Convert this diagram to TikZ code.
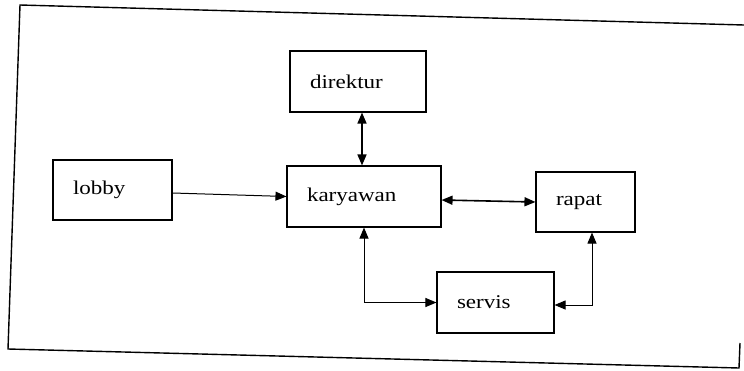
\documentclass[tikz,border=0pt]{standalone}
\usepackage{fontspec}
\setmainfont{Liberation Serif}[FakeStretch=1.18]
\usetikzlibrary{arrows.meta,calc}
\tikzset{
  kotak/.style={draw, line width=1.1pt, inner xsep=20pt, inner ysep=0pt,
    align=left, font=\fontsize{19.5}{22}\selectfont},
  tip/.tip={Triangle[length=11pt,width=9pt]},
  conn/.style={line width=1pt},
  frame/.style={line width=1.4pt}
}
\begin{document}
\begin{tikzpicture}[x=1pt,y=-1pt]
\clip (0,0) rectangle (744,370);
\fill[white] (0,0) rectangle (744,370);
% outer frame (scanned, slightly skewed)
\draw[frame, line join=miter] (744,25) -- (20,5) -- (8,349) -- (739,368) -- (740,343);
% boxes
\node[kotak, text width=96pt, minimum height=61pt] (direktur) at (358,81.5) {direktur};
\node[kotak, text width=79pt, minimum height=60pt] (lobby) at (112.5,190) {lobby};
\node[kotak, text width=114pt, minimum height=61pt] (karyawan) at (364,196.5) {karyawan};
\node[kotak, text width=59pt, minimum height=60pt] (rapat) at (585.5,202) {rapat};
\node[kotak, text width=77pt, minimum height=61pt] (servis) at (495.5,302.5) {servis};
% connectors
\draw[conn, line width=1.5pt, tip-tip] ([xshift=4pt]direktur.south) -- ([xshift=4pt]direktur.south |- karyawan.north);
\draw[conn, -tip] ([yshift=-3pt]lobby.east) -- (karyawan.west);
\draw[conn, line width=1.6pt, tip-tip] ([yshift=-3.5pt]karyawan.east) -- (rapat.west);
\draw[conn, tip-tip] (karyawan.south) |- (servis.west);
\draw[conn, tip-tip] ([yshift=-2.5pt]servis.east) -| ([xshift=6.5pt]rapat.south);
\end{tikzpicture}
\end{document}
